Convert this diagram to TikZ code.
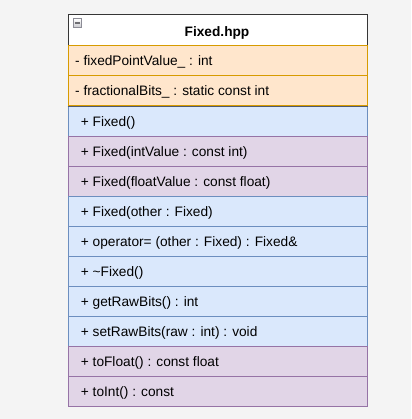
\documentclass[tikz,border=0pt]{standalone}
\usepackage{fontspec}
\setmainfont{Liberation Sans}
\definecolor{bgc}{HTML}{F4F4F4}
\definecolor{orF}{HTML}{FFE6CC}\definecolor{orD}{HTML}{D79B00}
\definecolor{blF}{HTML}{DAE8FC}\definecolor{blD}{HTML}{6C8EBF}
\definecolor{puF}{HTML}{E1D5E7}\definecolor{puD}{HTML}{9673A6}
\definecolor{hdD}{HTML}{363636}
\definecolor{sepD}{HTML}{505A6E}
\definecolor{icD}{HTML}{8C8C96}
\definecolor{icB}{HTML}{C8C8CD}
\definecolor{icM}{HTML}{6E6E73}
\begin{document}
\begin{tikzpicture}[x=1pt,y=-1pt,
  font=\fontsize{13.7}{16}\selectfont,
  row/.style={rectangle, line width=1.4pt, minimum width=299.5pt, minimum height=30pt, anchor=north west, inner sep=0pt},
  orow/.style={row, fill=orF, draw=orD},
  brow/.style={row, fill=blF, draw=blD},
  prow/.style={row, fill=puF, draw=puD},
  txt/.style={anchor=base west, inner sep=0pt}]
\useasboundingbox (0,0) rectangle (411,419);
\fill[bgc] (0,0) rectangle (411,419);
% header
\node[row, fill=white, draw=hdD, minimum height=31pt] (hdr) at (67.5,14) {};
\node[inner sep=0pt, anchor=base, font=\fontsize{13.7}{16}\selectfont\bfseries] (title) at (217,36.3) {Fixed.hpp};
\node[rectangle, draw=icD, line width=0.8pt, top color=white, bottom color=icB, minimum width=8.5pt, minimum height=9pt, inner sep=0pt] (icon) at (77.5,23) {};
\draw[line width=1.6pt, icM] ([xshift=1.8pt]icon.west) -- ([xshift=-1.8pt]icon.east);
% attributes
\node[orow] (a1) at (67.5,45) {};
\node[txt] (t1) at (75,65.6) {- fixedPointValue\_ : int};
\node[orow] (a2) at (67.5,75) {};
\node[txt] (t2) at (75,95.6) {- fractionalBits\_ : static const int};
% methods
\node[brow] (m1) at (67.5,106) {};
\node[txt] at (80.7,126.6) {+ Fixed()};
\node[prow] (m2) at (67.5,136) {};
\node[txt] at (80.7,156.6) {+ Fixed(intValue : const int)};
\node[prow] (m3) at (67.5,166) {};
\node[txt] at (80.7,186.6) {+ Fixed(floatValue : const float)};
\node[brow] (m4) at (67.5,196) {};
\node[txt] at (80.7,216.6) {+ Fixed(other : Fixed)};
\node[brow] (m5) at (67.5,226) {};
\node[txt] at (80.7,246.6) {+ operator= (other : Fixed) : Fixed\&};
\node[brow] (m6) at (67.5,256) {};
\node[txt] at (80.7,276.6) {+ \textasciitilde Fixed()};
\node[brow] (m7) at (67.5,286) {};
\node[txt] at (80.7,306.6) {+ getRawBits() : int};
\node[brow] (m8) at (67.5,316) {};
\node[txt] at (80.7,336.6) {+ setRawBits(raw : int) : void};
\node[prow] (m9) at (67.5,346) {};
\node[txt] at (80.7,366.6) {+ toFloat() : const float};
\node[prow] (m10) at (67.5,376) {};
\node[txt] at (80.7,396.6) {+ toInt() : const};
% separator
\draw[sepD, line width=1.5pt] (a2.south west) -- (a2.south east);
\end{tikzpicture}
\end{document}
